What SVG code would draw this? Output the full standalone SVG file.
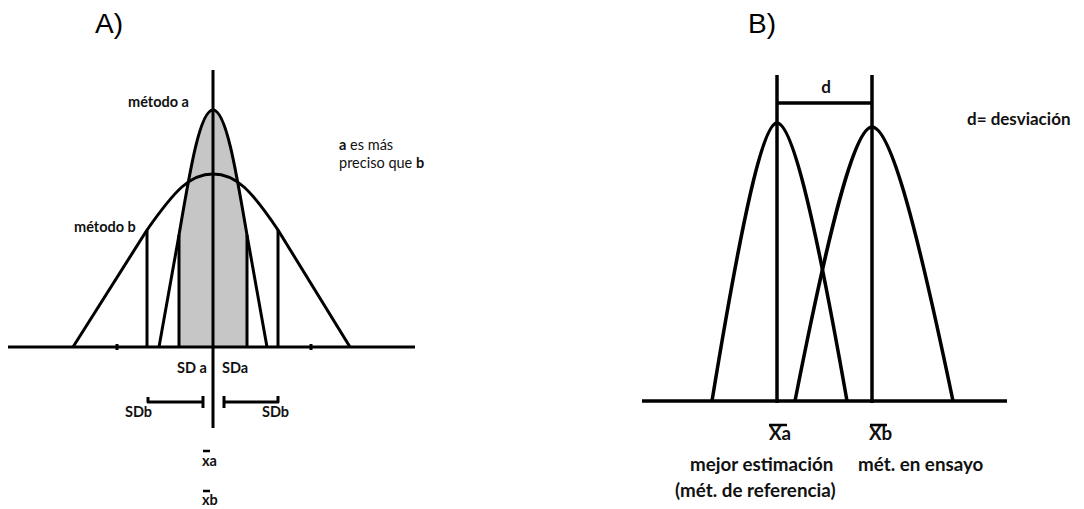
<svg xmlns="http://www.w3.org/2000/svg" width="1084" height="509" viewBox="0 0 1084 509">
<style>
.ln{fill:none;stroke:#000;stroke-width:3;stroke-linecap:butt;stroke-linejoin:round}
.lnb{fill:none;stroke:#000;stroke-width:3.5;stroke-linejoin:round}
.t{font-family:Lato,"Liberation Sans",sans-serif;font-weight:bold;fill:#111}
.tn{font-family:Lato,"Liberation Sans",sans-serif;font-weight:normal;fill:#111}
.ta{font-size:14.5px}
.tb{font-size:18.8px}
.hdr{font-family:"Liberation Sans",Arial,sans-serif;font-size:28px;fill:#000}
.bar{stroke:#000;stroke-width:2.5}
</style>
<rect width="1084" height="509" fill="#fff"/>

<g id="panelA">
  <text class="hdr" x="95" y="33">A)</text>
  <g id="shade">
    <path d="M179,347 L179,235 C190,170 200,110 213,110 C226,110 236,170 247,235 L247,347 Z" fill="#c6c6c6"/>
  </g>
  <g id="axesA">
    <line class="ln" x1="8" y1="347" x2="415" y2="347"/>
    <line class="ln" x1="213" y1="70" x2="213" y2="428"/>
    <line class="ln" x1="117" y1="344" x2="117" y2="350"/>
    <line class="ln" x1="311" y1="344" x2="311" y2="350"/>
  </g>
  <g id="curveA">
    <path class="ln" d="M159,347 L179,235 C190,170 200,110 213,110 C226,110 236,170 247,235 L267,347"/>
    <line class="ln" x1="179" y1="235" x2="179" y2="347"/>
    <line class="ln" x1="247" y1="235" x2="247" y2="347"/>
  </g>
  <g id="curveB">
    <path class="ln" d="M73,347 L147,230 C175,190 190,174 213,174 C236,174 251,190 278,230 L350,347"/>
    <line class="ln" x1="147" y1="230" x2="147" y2="347"/>
    <line class="ln" x1="278" y1="230" x2="278" y2="347"/>
  </g>
  <g id="brackets">
    <path class="ln" d="M148,397 L148,402 L203,402"/>
    <line class="ln" x1="203" y1="396" x2="203" y2="408"/>
    <path class="ln" d="M278,396 L278,402 L224,402"/>
    <line class="ln" x1="224" y1="396" x2="224" y2="408"/>
  </g>
  <g id="labelsA">
    <text class="t ta" x="128" y="107">método a</text>
    <text class="t ta" x="74" y="232">método b</text>
    <text class="tn ta" x="339" y="150"><tspan class="t">a</tspan> es más</text>
    <text class="tn ta" x="339" y="168">preciso que <tspan class="t">b</tspan></text>
    <text class="t ta" x="177" y="373">SD a</text>
    <text class="t ta" x="222" y="373">SDa</text>
    <text class="t ta" x="125" y="417">SDb</text>
    <text class="t ta" x="262" y="417">SDb</text>
    <line class="bar" x1="203" y1="451" x2="210" y2="451"/>
    <text class="t ta" x="202" y="466">xa</text>
    <line class="bar" x1="203" y1="491" x2="210" y2="491"/>
    <text class="t ta" x="202" y="505">xb</text>
  </g>
</g>

<g id="panelB">
  <text class="hdr" x="748" y="33">B)</text>
  <g id="axesB">
    <line class="lnb" x1="642" y1="401" x2="1007" y2="401"/>
    <line class="lnb" x1="777" y1="75" x2="777" y2="403"/>
    <line class="lnb" x1="872" y1="75" x2="872" y2="403"/>
    <line class="lnb" x1="777" y1="103" x2="872" y2="103"/>
  </g>
  <g id="curveBa">
    <path class="lnb" d="M712,401 C740,230 762,123 777,123 C793,123 817,230 847,401"/>
  </g>
  <g id="curveBb">
    <path class="lnb" d="M795,401 C828,233 854,127 872,127 C891,127 918,233 953,401"/>
  </g>
  <g id="labelsB">
    <text class="t" font-size="17" x="826" y="93" text-anchor="middle">d</text>
    <text class="t" font-size="17" x="967" y="125">d= desviación</text>
    <line class="bar" x1="769" y1="425" x2="787" y2="425"/>
    <text class="t tb" x="769" y="440">Xa</text>
    <line class="bar" x1="870" y1="425" x2="887" y2="425"/>
    <text class="t tb" x="869" y="440">Xb</text>
    <text class="t tb" x="690" y="471">mejor estimación</text>
    <text class="t tb" x="858" y="471">mét. en ensayo</text>
    <text class="t tb" x="675" y="497">(mét. de referencia)</text>
  </g>
</g>
</svg>
